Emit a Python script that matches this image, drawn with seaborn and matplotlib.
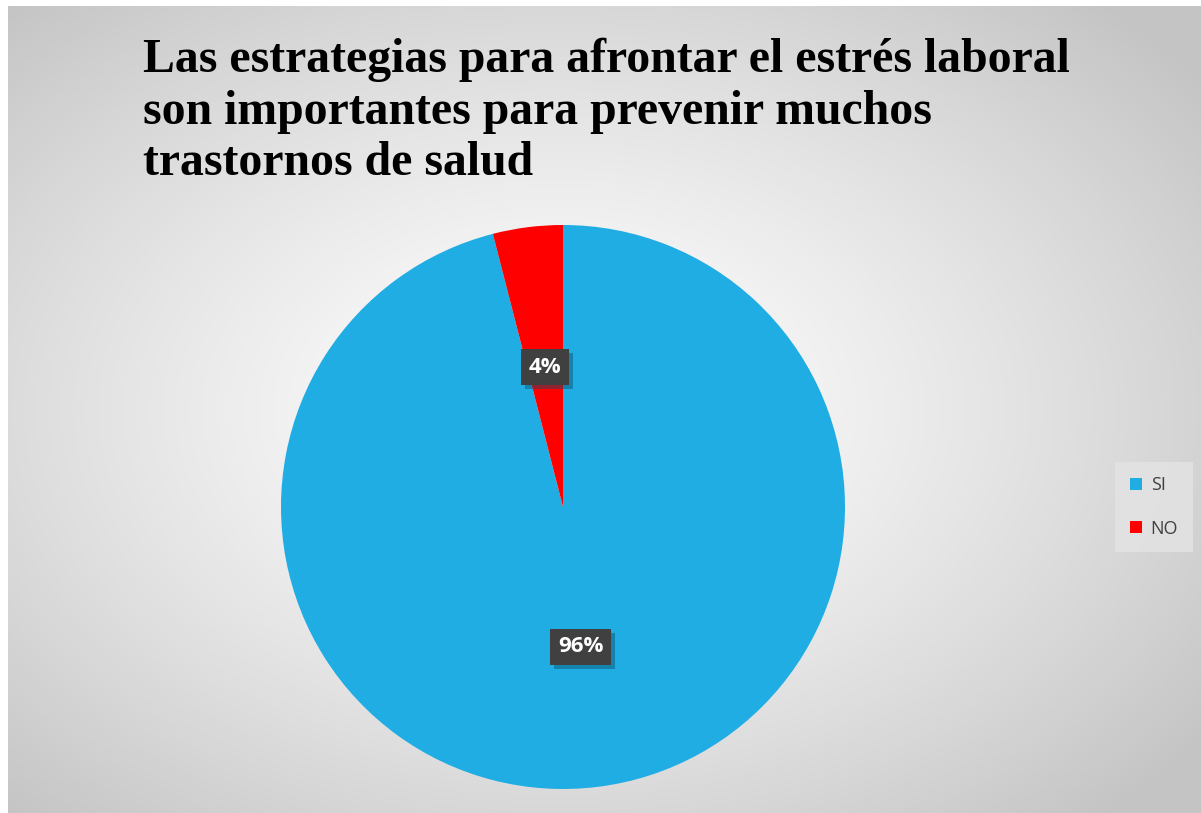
import numpy as np
import matplotlib
matplotlib.use("Agg")
import matplotlib.pyplot as plt
import seaborn as sns
from matplotlib.patches import Patch, Rectangle

categorias = ["SI", "NO"]
valores = [96, 4]
colores = ["#1FADE4", "#FF0000"]
titulo = "Las estrategias para afrontar el estrés laboral\nson importantes para prevenir muchos\ntrastornos de salud"

sns.set_theme(style="white")
plt.rcParams['font.family'] = ['Open Sans', 'DejaVu Sans']

fig = plt.figure(figsize=(12.01, 8.13), dpi=100)
fig.patch.set_facecolor("white")

# fondo con degradado radial
bg = fig.add_axes([8 / 1201, 0, 1 - 8 / 1201, (813 - 6) / 813])
yy, xx = np.mgrid[0:400, 0:600]
cx, cy = 0.46 * 600, 0.50 * 400
d = np.sqrt(((xx - cx) / 600) ** 2 + ((yy - cy) / 400) ** 2) / 0.68
d = np.clip(d, 0, 1)
g = 1.0 - 0.23 * d ** 1.3
bg.imshow(np.dstack([g, g, g]), aspect="auto", extent=[0, 1, 0, 1])
bg.set_axis_off()

# pastel
ax = fig.add_axes([281 / 1201, 24 / 813, 564 / 1201, 564 / 813])
wedges, textos, autotextos = ax.pie(
    valores, colors=colores, startangle=90, counterclock=False,
    autopct="%1.0f%%", pctdistance=0.5,
    wedgeprops=dict(linewidth=0),
    textprops=dict(color="white", fontsize=16, fontweight="bold"),
)
for t in autotextos:
    t.set_bbox(dict(boxstyle="square,pad=0.35", fc="#404040", ec="none"))
    t.set_zorder(5)
ax.set_xlim(-1, 1)
ax.set_ylim(-1, 1)
ax.set_aspect("equal")
ax.set_axis_off()

# sombra de las etiquetas
fig.canvas.draw()
inv = ax.transData.inverted()
for t in autotextos:
    ext = t.get_bbox_patch().get_window_extent()
    (x0, y0), (x1, y1) = inv.transform([[ext.x0 + 4, ext.y0 - 4], [ext.x1 + 4, ext.y1 - 4]])
    ax.add_patch(Rectangle((x0, y0), x1 - x0, y1 - y0, fc="#0A4F6E", ec="none",
                           alpha=0.45, zorder=4))

fig.text(143 / 1201, 1 - 38 / 813, titulo, ha="left", va="top",
         fontsize=34.4, fontweight="bold", family=["Liberation Serif", "DejaVu Serif"],
         linespacing=1.22, color="black")

handles = [Patch(facecolor=c, edgecolor="none") for c in colores]
leg = fig.legend(handles, categorias, loc="center", bbox_to_anchor=(1154 / 1201, 1 - 507 / 813),
                 frameon=True, fontsize=13, handlelength=0.65, handleheight=0.65,
                 handletextpad=0.5, labelspacing=1.4, borderpad=0.8, fancybox=False)
leg.get_frame().set_facecolor("#E4E4E4")
leg.get_frame().set_edgecolor("none")
for t in leg.get_texts():
    t.set_color("#404040")

fig.savefig("out.png", dpi=100, facecolor="white")
